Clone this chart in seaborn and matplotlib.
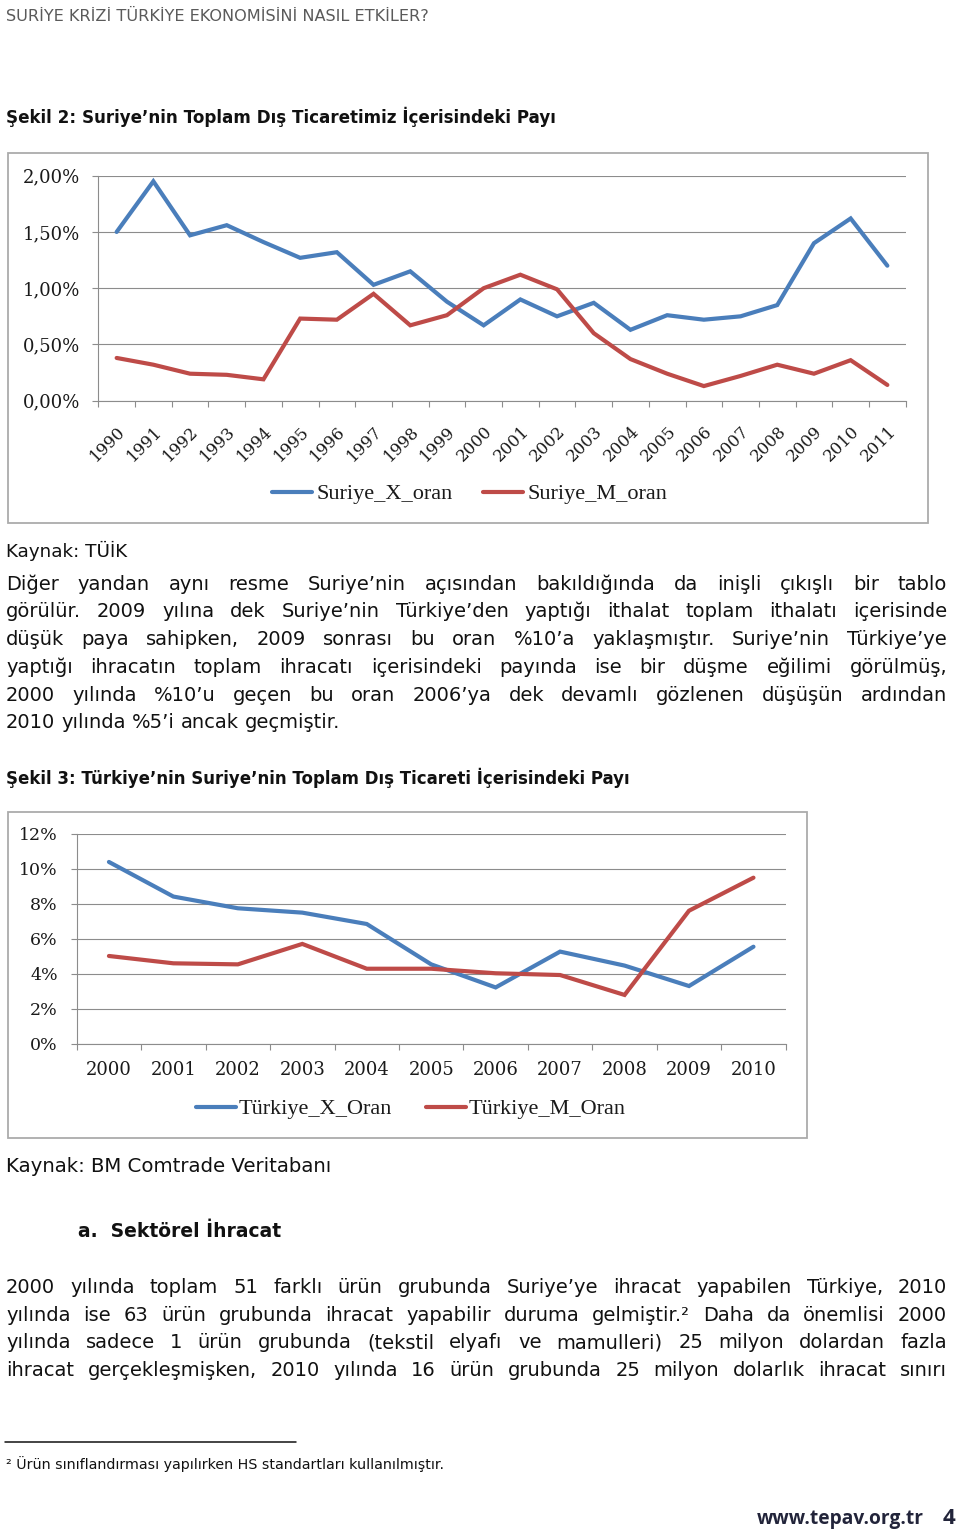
import numpy as np
import pandas as pd
import matplotlib
matplotlib.use("Agg")
import matplotlib.pyplot as plt
import seaborn as sns
from matplotlib.patches import Rectangle
from matplotlib.lines import Line2D
from matplotlib.transforms import ScaledTranslation

# ---------------- data ----------------
years1 = list(range(1990, 2012))
suriye_x_oran = [1.50, 1.95, 1.47, 1.56, 1.41, 1.27, 1.32, 1.03, 1.15, 0.88, 0.67,
                 0.90, 0.75, 0.87, 0.63, 0.76, 0.72, 0.75, 0.85, 1.40, 1.62, 1.20]
suriye_m_oran = [0.38, 0.32, 0.24, 0.23, 0.19, 0.73, 0.72, 0.95, 0.67, 0.76, 1.00,
                 1.12, 0.99, 0.60, 0.37, 0.24, 0.13, 0.22, 0.32, 0.24, 0.36, 0.14]
series1 = ["Suriye_X_oran", "Suriye_M_oran"]
yticks1 = [0.0, 0.5, 1.0, 1.5, 2.0]
ylabels1 = ["0,00%", "0,50%", "1,00%", "1,50%", "2,00%"]

years2 = list(range(2000, 2011))
turkiye_x_oran = [10.4, 8.42, 7.75, 7.5, 6.85, 4.54, 3.22, 5.27, 4.47, 3.3, 5.55]
turkiye_m_oran = [5.02, 4.6, 4.54, 5.71, 4.29, 4.29, 4.03, 3.93, 2.79, 7.61, 9.5]
series2 = ["Türkiye_X_Oran", "Türkiye_M_Oran"]
yticks2 = [0, 2, 4, 6, 8, 10, 12]
ylabels2 = ["0%", "2%", "4%", "6%", "8%", "10%", "12%"]

header = "SURİYE KRİZİ TÜRKİYE EKONOMİSİNİ NASIL ETKİLER?"
title1 = "Şekil 2: Suriye’nin Toplam Dış Ticaretimiz İçerisindeki Payı"
source1 = "Kaynak: TÜİK"
para1 = [
    "Diğer yandan aynı resme Suriye’nin açısından bakıldığında da inişli çıkışlı bir tablo",
    "görülür. 2009 yılına dek Suriye’nin Türkiye’den yaptığı ithalat toplam ithalatı içerisinde",
    "düşük paya sahipken, 2009 sonrası bu oran %10’a yaklaşmıştır. Suriye’nin Türkiye’ye",
    "yaptığı ihracatın toplam ihracatı içerisindeki payında ise bir düşme eğilimi görülmüş,",
    "2000 yılında %10’u geçen bu oran 2006’ya dek devamlı gözlenen düşüşün ardından",
    "2010 yılında %5’i ancak geçmiştir.",
]
title2 = "Şekil 3: Türkiye’nin Suriye’nin Toplam Dış Ticareti İçerisindeki Payı"
source2 = "Kaynak: BM Comtrade Veritabanı"
section = "a.  Sektörel İhracat"
para2 = [
    "2000 yılında toplam 51 farklı ürün grubunda Suriye’ye ihracat yapabilen Türkiye, 2010",
    "yılında ise 63 ürün grubunda ihracat yapabilir duruma gelmiştir.² Daha da önemlisi 2000",
    "yılında sadece 1 ürün grubunda (tekstil elyafı ve mamulleri) 25 milyon dolardan fazla",
    "ihracat gerçekleşmişken, 2010 yılında 16 ürün grubunda 25 milyon dolarlık ihracat sınırı",
]
footnote = "² Ürün sınıflandırması yapılırken HS standartları kullanılmıştır."
website = "www.tepav.org.tr"
pageno = "4"

# ---------------- style ----------------
sns.set_theme(style="white")
plt.rcParams["font.family"] = ["DejaVu Sans"]
BLUE = "#4A7EBB"
RED = "#BE4B48"
GRID = "#8C8C8C"
BOX = "#ABABAB"
TXT = "#111111"
BODY = "DejaVu Sans"
SERIF = "DejaVu Serif"
LEG = "Liberation Serif"

W, H = 960, 1532
fig = plt.figure(figsize=(W / 100, H / 100), dpi=100)
fig.patch.set_facecolor("white")
R = fig.canvas.get_renderer()


def fx(x):
    return x / W


def fy(y):
    return 1 - y / H


def rect(l, t, r, b):
    return [l / W, 1 - b / H, (r - l) / W, (b - t) / H]


def measure(t):
    return t.get_window_extent(R).width


def text(x, yb, s, size, weight="normal", color=TXT, family=BODY, width=None, ha="left"):
    t = fig.text(fx(x), fy(yb), s, fontsize=size, fontweight=weight, color=color,
                 family=family, va="baseline", ha=ha)
    if width:
        w = measure(t)
        t.set_fontsize(size * width / w)
    return t


def word_widths(words, size):
    ts = [fig.text(0, 0, w, fontsize=size, family=BODY) for w in words]
    ws = [measure(t) for t in ts]
    for t in ts:
        t.remove()
    return ws


def paragraph(lines, y0, dy, x0=6, x1=947, size=14.0, last_justified=False):
    avail = x1 - x0
    for i, s in enumerate(lines):
        words = s.split(" ")
        last = (i == len(lines) - 1) and not last_justified
        lsize = size
        sp = lsize * 0.318 * 100 / 72
        ws = word_widths(words, lsize)
        need = sum(ws) + (len(words) - 1) * 0.8 * sp
        if not last and need > avail:
            lsize = lsize * avail / need
            sp = lsize * 0.318 * 100 / 72
        ts = [fig.text(0, 0, w, fontsize=lsize, family=BODY, color=TXT, va="baseline")
              for w in words]
        ws = [measure(t) for t in ts]
        gap = sp if last or len(words) == 1 else (avail - sum(ws)) / (len(words) - 1)
        x = x0
        for t, w in zip(ts, ws):
            t.set_position((fx(x), fy(y0 + i * dy)))
            x += w + gap


def draw_chart(ax, years, sx, sm, names, yticks, ylabels, ylim, xsize, ysize,
               xpad, ypad, rotate=False):
    n = len(years)
    df = pd.DataFrame({
        "Yıl": years * 2,
        "Değer": sx + sm,
        "Seri": [names[0]] * n + [names[1]] * n,
    })
    sns.lineplot(data=df, x="Yıl", y="Değer", hue="Seri", palette=[BLUE, RED],
                 lw=3, ax=ax, legend=True, solid_joinstyle="miter")
    ax.set_xlim(years[0] - 0.5, years[-1] + 0.5)
    ax.set_ylim(*ylim)
    ax.set_yticks(yticks)
    ax.set_yticklabels(ylabels, fontsize=ysize, family=SERIF, color="#1a1a1a")
    ax.set_xticks(years)
    if rotate:
        ax.set_xticklabels([str(y) for y in years], fontsize=xsize, family=SERIF,
                           color="#1a1a1a", rotation=45, ha="right", va="top",
                           rotation_mode="anchor")
        off = ScaledTranslation(6 / 100, 0, fig.dpi_scale_trans)
        for lbl in ax.get_xticklabels():
            lbl.set_transform(lbl.get_transform() + off)
    else:
        ax.set_xticklabels([str(y) for y in years], fontsize=xsize, family=SERIF,
                           color="#1a1a1a")
    ax.set_xticks(np.arange(years[0] - 0.5, years[-1] + 1.0, 1.0), minor=True)
    ax.tick_params(axis="x", which="major", length=0, pad=xpad)
    ax.tick_params(axis="x", which="minor", length=4.5, width=0.8, color=GRID,
                   direction="out", bottom=True)
    ax.tick_params(axis="y", which="major", length=4.5, width=0.8, color=GRID,
                   direction="out", left=True, pad=ypad)
    ax.grid(axis="y", color=GRID, lw=0.8)
    ax.grid(axis="x", visible=False)
    ax.set_axisbelow(True)
    for s in ["top", "right"]:
        ax.spines[s].set_visible(False)
    for s in ["left", "bottom"]:
        ax.spines[s].set_color(GRID)
        ax.spines[s].set_linewidth(0.8)
    ax.set_xlabel("")
    ax.set_ylabel("")
    ax.patch.set_alpha(0)
    handles, labels = ax.get_legend_handles_labels()
    if ax.get_legend() is not None:
        ax.get_legend().remove()
    return handles, labels


def legend(ax, handles, labels, x, y, colsp, tpad):
    leg = ax.legend(handles, labels, loc="center left",
                    bbox_to_anchor=(fx(x), fy(y)), bbox_transform=fig.transFigure,
                    ncol=2, frameon=False, borderpad=0, borderaxespad=0,
                    handlelength=1.8, handletextpad=tpad, columnspacing=colsp,
                    prop={"family": LEG, "size": 16})
    for h in leg.get_lines():
        h.set_linewidth(3)
    for t in leg.get_texts():
        t.set_color("#1a1a1a")
    return leg


# ---------------- header texts ----------------
text(6.5, 20.7, header, 10, color="#5a5a5a", width=420)
text(6, 123.3, title1, 13, weight="bold", width=547)

# ---------------- chart 1 ----------------
fig.add_artist(Rectangle((fx(8), fy(522.7)), (927.7 - 8) / W, (522.7 - 153.3) / H,
                         transform=fig.transFigure, fill=False, ec=BOX, lw=1.3))
ax1 = fig.add_axes(rect(98.3, 175.7, 905.7, 400.7))
h1, l1 = draw_chart(ax1, years1, suriye_x_oran, suriye_m_oran, series1, yticks1, ylabels1,
                    (0, 2.0), 12, 13, 16, 8.5, rotate=True)
legend(ax1, h1, l1, 272, 494, 1.4, 0.18)

text(6, 557.3, source1, 13, width=121)
paragraph(para1, 589.5, 27.8)

text(6, 783.5, title2, 13, weight="bold", width=623)

# ---------------- chart 2 ----------------
fig.add_artist(Rectangle((fx(8), fy(1138.3)), (807.3 - 8) / W, (1138.3 - 812.3) / H,
                         transform=fig.transFigure, fill=False, ec=BOX, lw=1.3))
ax2 = fig.add_axes(rect(76.7, 834, 785.7, 1043.7))
h2, l2 = draw_chart(ax2, years2, turkiye_x_oran, turkiye_m_oran, series2, yticks2, ylabels2,
                    (0, 12), 13, 12.5, 12.5, 9, rotate=False)
legend(ax2, h2, l2, 196, 1109, 1.55, 0.1)

text(6, 1171.7, source2, 13, width=327)
text(78, 1237.3, section, 15, weight="bold", width=204)
paragraph(para2, 1293.3, 27.6, last_justified=True)

# ---------------- footnote & footer ----------------
fig.add_artist(Line2D([fx(5), fx(296)], [fy(1442.3), fy(1442.3)],
                      transform=fig.transFigure, color="#111111", lw=1.1))
text(6.5, 1469.3, footnote, 9.5, width=444)
text(757, 1524.3, website, 13, weight="bold", color="#22243a", family="Open Sans", width=165)
text(943, 1524.3, pageno, 16, weight="bold", color="#22243a", family="Open Sans")

fig.savefig("out.png", dpi=100, facecolor="white")
